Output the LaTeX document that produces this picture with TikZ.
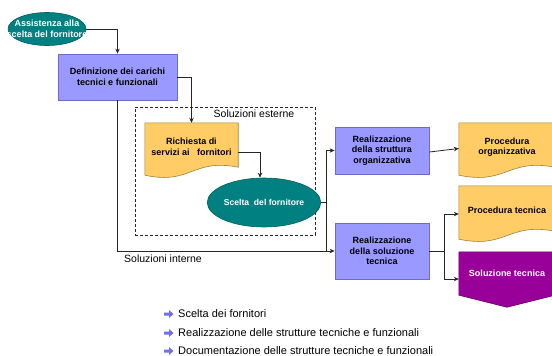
\documentclass[tikz,border=0pt]{standalone}
\usepackage{fontspec}
\setmainfont{Liberation Sans}
\usetikzlibrary{arrows.meta,shapes.geometric,backgrounds,calc}
\definecolor{lav}{HTML}{9999FF}
\definecolor{lavedge}{HTML}{6C6CC8}
\definecolor{yel}{HTML}{FFCC66}
\definecolor{yeledge}{HTML}{A08040}
\definecolor{teal1}{HTML}{008080}
\definecolor{tealedge}{HTML}{006060}
\definecolor{purp}{HTML}{990099}
\definecolor{purpedge}{HTML}{660066}
\definecolor{bul}{HTML}{6F6FF0}
\tikzset{
  boxtext/.style={font=\bfseries\fontsize{9}{10.5}\selectfont, align=center, inner sep=0pt},
  taskbox/.style={boxtext, rectangle, draw=lavedge, fill=lav, line width=0.8pt},
  ovalnode/.style={boxtext, ellipse, draw=tealedge, fill=teal1, text=white, line width=0.6pt},
  docbox/.style={boxtext, rectangle, draw=none},
  docfill/.style={draw=yeledge, fill=yel, line width=0.6pt},
  purpfill/.style={draw=purpedge, fill=purp, line width=0.6pt},
  conn/.style={draw=black!85, line width=0.8pt},
  arr/.style={conn, -{Stealth[length=5pt,width=4.5pt]}},
  plainlabel/.style={font=\fontsize{10.5}{12}\selectfont, inner sep=0pt},
  bullettext/.style={font=\fontsize{11}{13}\selectfont, inner sep=0pt, anchor=west},
}
\newcommand\docpath[1]{%
  \path[docfill] (#1.north west) -- (#1.north east) -- ([yshift=4pt]#1.south east)
    .. controls ([yshift=13pt]#1.south) and ([yshift=-14pt]#1.south) ..
    ([yshift=-4pt]#1.south west) -- cycle;}
\begin{document}
\begin{tikzpicture}[x=1pt,y=-1pt]
\useasboundingbox (0,0) rectangle (552,356);

% left column
\node[ovalnode, minimum width=78pt, minimum height=33pt] (assist) at (47,29)
  {\makebox[0pt][c]{Assistenza alla}\\\makebox[0pt][c]{scelta del fornitore}};
\node[taskbox, minimum width=119pt, minimum height=46pt] (defin) at (117.5,77)
  {Definizione dei carichi\\tecnici e funzionali};

% dashed group
\node[draw=black!85, dashed, dash pattern=on 3pt off 2pt, line width=0.7pt,
      minimum width=180pt, minimum height=128pt, inner sep=0pt] (group) at (225,171) {};
\node[plainlabel] (esterne) at (254,114) {Soluzioni esterne};

\node[docbox, minimum width=93pt, minimum height=48pt] (richiesta) at (191.5,147)
  {Richiesta di\\servizi ai\ \ \ fornitori};
\node[ovalnode, minimum width=106pt, minimum height=49pt, font=\bfseries\fontsize{8.6}{10}\selectfont] (scelta) at (264,202.5)
  {Scelta\ \ del fornitore};

% middle column
\node[taskbox, minimum width=94pt, minimum height=47pt] (realorg) at (382,150.5)
  {Realizzazione\\della struttura\\organizzativa};
\node[taskbox, minimum width=94pt, minimum height=56pt] (realsol) at (382,251)
  {Realizzazione\\della soluzione\\tecnica};

% right column
\node[docbox, minimum width=96pt, minimum height=48pt] (procorg) at (507,147)
  {Procedura\\organizzativa};
\node[docbox, minimum width=96pt, minimum height=49pt] (proctec) at (507,210.5)
  {Procedura tecnica};
\node[docbox, text=white, minimum width=96pt, minimum height=43pt] (soltec) at (507,273.5)
  {Soluzione tecnica};

\begin{scope}[on background layer]
  \docpath{richiesta}
  \docpath{procorg}
  \docpath{proctec}
  \path[purpfill] (soltec.north west) -- (soltec.north east) -- (soltec.south east)
    -- ([yshift=-12pt]soltec.south) -- (soltec.south west) -- cycle;
\end{scope}

\node[plainlabel, anchor=west] (interne) at (124,259) {Soluzioni interne};

% connectors
\draw[arr] (assist.east) -| (defin.north);
\draw[arr] (defin.east) -| (richiesta.north);
\draw[arr] (defin.south) |- (realsol.west);
\draw[arr] ([yshift=-5pt]richiesta.east) -| ([xshift=-4pt]scelta.north);
\coordinate (j) at ($(scelta.east)+(5,0)$);
\draw[conn] (scelta.east) -- (j);
\draw[arr] (j) |- (realorg.west);
\draw[conn] (j) -- (j |- realsol.west);
\draw[arr] ([yshift=-1.5pt]realorg.east) -- ([yshift=-1.5pt]procorg.west);
\coordinate (k) at ($(realsol.east)+(15,0)$);
\draw[conn] (realsol.east) -- (k);
\draw[arr] (k) |- ([yshift=-3.5pt]proctec.west);
\draw[arr] (k) |- ([yshift=-5.5pt]soltec.west);

% bullets
\foreach \yy/\txt [count=\i] in {314/{Scelta dei fornitori},
    333/{Realizzazione delle strutture tecniche e funzionali},
    351/{Documentazione delle strutture tecniche e funzionali}} {
  \fill[bul] (164,\yy-1.5) -- (169,\yy-1.5) -- (169,\yy-4) -- (173.5,\yy) -- (169,\yy+4)
     -- (169,\yy+1.5) -- (164,\yy+1.5) -- cycle;
  \node[bullettext] (b\i) at (178,\yy) {\txt};
}
\end{tikzpicture}
\end{document}
